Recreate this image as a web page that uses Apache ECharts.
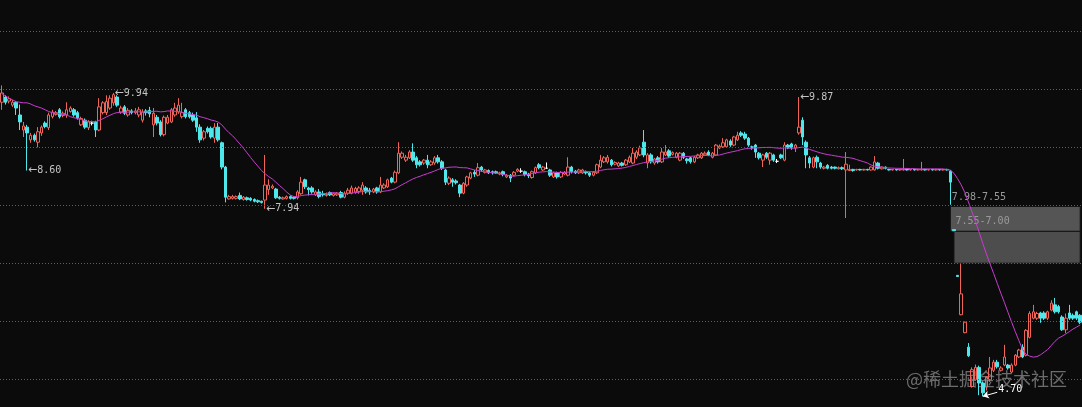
<!DOCTYPE html>
<html><head><meta charset="utf-8">
<script src="https://cdn.jsdelivr.net/npm/echarts@6/dist/echarts.min.js"></script>
<style>html,body{margin:0;padding:0;background:#0b0b0b}#c{width:1082px;height:407px}</style>
</head><body><div id="c"></div>
<script>
// [open, close, low, high]
const candles = [
[9.78,9.94,9.65,10.07],[9.87,9.78,9.74,9.90],[9.80,9.84,9.76,9.88],[9.73,9.78,9.70,9.82],[9.78,9.68,9.56,9.80],
[9.56,9.44,9.30,9.74],[9.30,9.37,9.18,9.44],[9.35,9.25,8.60,9.39],[9.13,9.21,9.08,9.25],[9.21,9.13,9.10,9.24],
[9.09,9.27,9.00,9.35],[9.25,9.35,9.20,9.38],[9.42,9.36,9.33,9.45],[9.34,9.56,9.30,9.60],[9.53,9.61,9.50,9.65],
[9.57,9.60,9.55,9.63],[9.65,9.53,9.50,9.68],[9.55,9.59,9.52,9.62],[9.56,9.65,9.51,9.78],[9.62,9.68,9.60,9.71],
[9.65,9.56,9.53,9.68],[9.60,9.51,9.48,9.63],[9.39,9.50,9.37,9.53],[9.47,9.35,9.32,9.50],[9.34,9.44,9.30,9.47],
[9.42,9.42,9.38,9.46],[9.44,9.30,9.18,9.46],[9.30,9.70,9.28,9.85],[9.60,9.77,9.57,9.80],[9.60,9.79,9.56,9.90],
[9.68,9.85,9.65,9.90],[9.77,9.91,9.72,9.94],[9.87,9.73,9.70,9.90],[9.61,9.68,9.58,9.72],[9.70,9.59,9.56,9.73],
[9.56,9.64,9.53,9.68],[9.63,9.60,9.57,9.66],[9.60,9.63,9.57,9.68],[9.56,9.65,9.52,9.70],[9.47,9.61,9.43,9.66],
[9.63,9.60,9.55,9.66],[9.64,9.58,9.52,9.70],[9.39,9.59,9.18,9.68],[9.52,9.42,9.38,9.56],[9.44,9.22,9.19,9.47],
[9.22,9.52,9.19,9.55],[9.42,9.52,9.40,9.56],[9.44,9.65,9.42,9.68],[9.56,9.68,9.53,9.77],[9.61,9.73,9.58,9.85],
[9.53,9.60,9.50,9.77],[9.65,9.53,9.50,9.68],[9.60,9.53,9.50,9.63],[9.56,9.47,9.44,9.60],[9.51,9.35,9.27,9.61],
[9.35,9.13,9.08,9.40],[9.16,9.27,9.12,9.30],[9.33,9.27,9.24,9.36],[9.33,9.18,9.15,9.36],[9.16,9.35,9.08,9.42],
[9.35,9.13,9.10,9.42],[9.08,8.66,8.62,9.10],[8.66,8.14,8.05,8.68],[8.11,8.15,8.10,8.18],[8.12,8.15,8.10,8.18],
[8.12,8.15,8.10,8.17],[8.17,8.11,8.09,8.22],[8.10,8.14,8.08,8.16],[8.13,8.10,8.08,8.15],[8.12,8.09,8.07,8.14],
[8.10,8.07,8.05,8.12],[8.08,8.06,8.04,8.10],[8.07,8.05,8.03,8.08],[8.09,8.35,7.94,8.87],[8.27,8.35,8.18,8.45],
[8.30,8.33,8.28,8.36],[8.28,8.13,8.11,8.30],[8.14,8.12,8.10,8.16],[8.11,8.13,8.10,8.15],[8.12,8.15,8.10,8.17],
[8.15,8.12,8.10,8.17],[8.14,8.12,8.10,8.16],[8.13,8.23,8.10,8.26],[8.20,8.40,8.18,8.49],[8.44,8.32,8.28,8.46],
[8.30,8.27,8.17,8.32],[8.30,8.23,8.20,8.33],[8.18,8.23,8.16,8.26],[8.23,8.15,8.12,8.28],[8.20,8.18,8.15,8.25],
[8.17,8.19,8.15,8.22],[8.22,8.18,8.16,8.24],[8.17,8.20,8.15,8.22],[8.18,8.21,8.16,8.23],[8.22,8.14,8.12,8.25],
[8.14,8.21,8.12,8.24],[8.21,8.26,8.18,8.30],[8.21,8.30,8.19,8.34],[8.23,8.29,8.20,8.32],[8.24,8.30,8.20,8.33],
[8.26,8.35,8.18,8.40],[8.30,8.23,8.20,8.33],[8.26,8.23,8.18,8.30],[8.23,8.28,8.21,8.30],[8.30,8.23,8.20,8.32],
[8.23,8.35,8.21,8.49],[8.30,8.35,8.28,8.38],[8.32,8.44,8.30,8.46],[8.47,8.40,8.38,8.49],[8.40,8.57,8.38,8.60],
[8.56,8.90,8.54,9.09],[8.83,8.90,8.80,8.93],[8.78,8.83,8.75,8.87],[8.82,8.92,8.80,8.95],[8.92,8.78,8.75,9.07],
[8.82,8.70,8.64,8.85],[8.75,8.70,8.67,8.78],[8.73,8.78,8.70,8.80],[8.78,8.70,8.64,8.87],[8.70,8.75,8.68,8.78],
[8.73,8.82,8.70,8.85],[8.82,8.75,8.72,8.87],[8.75,8.64,8.61,8.78],[8.61,8.40,8.35,8.63],[8.38,8.47,8.35,8.50],
[8.44,8.40,8.32,8.47],[8.42,8.39,8.36,8.45],[8.35,8.21,8.14,8.37],[8.21,8.38,8.19,8.40],[8.35,8.49,8.32,8.51],
[8.47,8.56,8.45,8.58],[8.57,8.54,8.49,8.61],[8.52,8.65,8.50,8.73],[8.66,8.61,8.58,8.68],[8.57,8.61,8.55,8.63],
[8.60,8.56,8.54,8.62],[8.58,8.56,8.53,8.60],[8.58,8.56,8.54,8.60],[8.54,8.56,8.52,8.58],[8.58,8.53,8.50,8.60],
[8.49,8.52,8.47,8.54],[8.52,8.47,8.40,8.54],[8.52,8.57,8.50,8.59],[8.59,8.62,8.57,8.64],[8.59,8.59,8.56,8.64],
[8.58,8.53,8.50,8.60],[8.54,8.51,8.47,8.56],[8.48,8.58,8.46,8.60],[8.56,8.65,8.54,8.67],[8.70,8.65,8.62,8.73],
[8.61,8.66,8.59,8.68],[8.64,8.64,8.63,8.74],[8.61,8.52,8.49,8.63],[8.49,8.56,8.47,8.58],[8.56,8.49,8.46,8.58],
[8.49,8.57,8.47,8.59],[8.54,8.57,8.52,8.59],[8.52,8.66,8.50,8.83],[8.66,8.58,8.55,8.68],[8.59,8.56,8.54,8.61],
[8.56,8.61,8.54,8.63],[8.56,8.61,8.54,8.63],[8.58,8.56,8.53,8.60],[8.56,8.52,8.49,8.58],[8.52,8.57,8.50,8.59],
[8.56,8.70,8.54,8.72],[8.66,8.78,8.64,8.87],[8.75,8.82,8.73,8.85],[8.75,8.83,8.72,8.87],[8.78,8.70,8.67,8.80],
[8.71,8.74,8.69,8.76],[8.68,8.73,8.66,8.75],[8.73,8.69,8.67,8.75],[8.70,8.78,8.68,8.80],[8.75,8.83,8.73,8.86],
[8.73,8.90,8.71,8.99],[8.83,8.92,8.80,8.95],[8.87,8.99,8.85,9.03],[9.09,8.87,8.83,9.30],[8.73,8.87,8.64,8.90],
[8.87,8.75,8.72,8.90],[8.73,8.80,8.70,8.82],[8.82,8.75,8.72,8.85],[8.75,8.92,8.73,8.99],[8.87,8.92,8.85,9.04],
[8.94,8.85,8.82,8.97],[8.88,8.91,8.86,8.93],[8.83,8.90,8.81,8.92],[8.78,8.90,8.76,8.92],[8.90,8.83,8.80,8.92],
[8.80,8.77,8.72,8.82],[8.82,8.75,8.72,8.84],[8.75,8.83,8.73,8.85],[8.82,8.87,8.80,8.89],[8.82,8.90,8.80,8.92],
[8.87,8.90,8.85,8.93],[8.92,8.87,8.85,8.95],[8.83,8.90,8.81,8.92],[8.87,9.04,8.85,9.06],[8.99,9.02,8.97,9.05],
[9.01,9.08,8.99,9.16],[9.01,9.13,8.99,9.15],[9.11,9.04,9.01,9.14],[9.04,9.18,9.02,9.20],[9.13,9.21,9.11,9.27],
[9.25,9.21,9.18,9.28],[9.23,9.16,9.13,9.27],[9.16,9.04,9.01,9.18],[9.01,8.99,8.96,9.03],[9.04,8.92,8.82,9.06],
[8.90,8.82,8.79,8.92],[8.78,8.87,8.66,8.89],[8.90,8.83,8.80,8.92],[8.78,8.90,8.70,8.92],[8.87,8.78,8.75,8.89],
[8.76,8.76,8.73,8.80],[8.87,8.82,8.80,8.89],[8.78,9.04,8.76,9.09],[9.04,8.99,8.97,9.06],[9.06,8.99,8.96,9.08],
[8.99,9.04,8.92,9.06],[9.25,9.35,9.22,9.87],[9.47,9.18,9.04,9.52],[9.09,8.87,8.64,9.12],[8.82,8.73,8.64,8.85],
[8.66,8.82,8.64,8.84],[8.83,8.75,8.64,8.86],[8.73,8.66,8.63,8.75],[8.64,8.66,8.62,8.68],[8.69,8.64,8.62,8.71],
[8.66,8.64,8.62,8.68],[8.66,8.64,8.62,8.67],[8.63,8.65,8.62,8.67],[8.65,8.63,8.61,8.67],[8.61,8.71,7.78,8.92],
[8.60,8.62,8.59,8.70],[8.62,8.60,8.58,8.63],[8.61,8.62,8.60,8.63],[8.62,8.61,8.60,8.63],[8.61,8.62,8.60,8.63],
[8.62,8.61,8.60,8.63],[8.61,8.66,8.60,8.67],[8.61,8.75,8.60,8.85],[8.73,8.64,8.62,8.75],[8.63,8.66,8.62,8.67],
[8.66,8.64,8.62,8.67],[8.62,8.61,8.60,8.63],[8.61,8.62,8.60,8.63],[8.62,8.61,8.60,8.62],[8.61,8.62,8.60,8.63],
[8.61,8.62,8.60,8.80],[8.62,8.61,8.60,8.63],[8.61,8.62,8.60,8.62],[8.62,8.61,8.60,8.63],[8.61,8.62,8.60,8.63],
[8.61,8.62,8.60,8.75],[8.62,8.61,8.60,8.63],[8.61,8.62,8.60,8.62],[8.62,8.61,8.60,8.63],[8.61,8.62,8.60,8.63],
[8.62,8.61,8.60,8.62],[8.61,8.62,8.60,8.63],[8.62,8.61,8.60,8.63],[8.59,8.40,8.01,8.61],[7.58,7.56,7.56,7.58],
[6.79,6.77,6.77,6.79],[6.11,6.47,6.10,7.00],[5.80,5.98,5.79,5.99],[5.55,5.40,5.38,5.62],[4.87,5.16,4.85,5.20],
[4.99,5.20,4.97,5.25],[5.20,4.93,4.72,5.23],[4.93,4.76,4.70,4.96],[4.86,5.03,4.80,5.05],[4.99,5.19,4.95,5.38],
[5.15,5.29,5.12,5.33],[5.29,5.21,5.18,5.33],[5.15,5.19,5.13,5.22],[5.24,5.38,5.22,5.59],[5.24,5.19,5.16,5.26],
[5.12,5.24,5.10,5.27],[5.24,5.41,5.22,5.43],[5.38,5.50,5.36,5.52],[5.55,5.38,5.36,5.60],[5.41,5.84,5.39,5.86],
[5.72,6.13,5.70,6.17],[6.05,6.16,6.03,6.28],[6.05,6.13,6.02,6.16],[6.14,6.05,5.97,6.16],[6.14,6.05,6.02,6.17],
[6.05,6.16,6.02,6.18],[6.19,6.31,6.17,6.36],[6.28,6.16,6.13,6.40],[6.25,6.16,6.13,6.28],[6.07,5.85,5.83,6.10],
[5.85,6.05,5.79,6.13],[6.14,6.05,6.02,6.28],[6.10,6.05,6.02,6.13],[6.16,6.05,6.02,6.18],[6.10,5.98,5.95,6.12]
];
// MA20 values for the first 19 days (earlier history not shown)
const ma20Head = [9.93,9.89,9.85,9.82,9.79,9.78,9.77,9.77,9.75,9.72,9.70,9.68,9.65,9.62,9.60,9.59,9.58,9.57,9.56];
const gridPrices = [5,6,7,8,9,10,11];
const extremeMarks = [
  {i:7, v:8.60}, {i:31, v:9.94}, {i:73, v:7.94}, {i:221, v:9.87}
];
const lowMark = {i:272, v:4.70, toI:276, toV:4.77, text:'4.70'};
const bands = [
  {from:263, top:7.98, bottom:7.55, text:'7.98-7.55', color:'#555555'},
  {from:264, top:7.55, bottom:7.00, text:'7.55-7.00', color:'#4d4d4d'}
];
const days = candles.map((_, i) => 'D' + (i + 1));

const UP = '#f0645a', DOWN = '#4ee8ec', BG = '#0b0b0b';
const closes = candles.map(c => c[1]);
const ma20 = closes.map((c, i) => i < 19 ? ma20Head[i] :
  +(closes.slice(i - 19, i + 1).reduce((a, b) => a + b, 0) / 20).toFixed(3));

const kData = candles.map(c => c[0] === c[1]
  ? {value: c, itemStyle: {color: '#ffffff', color0: '#ffffff', borderColor: '#ffffff', borderColor0: '#ffffff'}}
  : {value: c});

const lastI = candles.length - 1;
const chart = echarts.init(document.getElementById('c'), null, {renderer: 'canvas'});
chart.setOption({
  animation: false,
  backgroundColor: BG,
  grid: {left: 0, right: 0, top: 0, bottom: 0},
  xAxis: {type: 'category', data: days, show: false, boundaryGap: true},
  yAxis: {type: 'value', min: 4.516, max: 11.546, show: false},
  series: [
    {
      type: 'line', data: [], z: 1, silent: true,
      markLine: {
        silent: true, symbol: 'none', label: {show: false},
        lineStyle: {color: '#5e5e5e', width: 1, type: [1, 2]},
        data: gridPrices.map(v => ({yAxis: v}))
      },
      markArea: {
        silent: true,
        data: bands.map(b => [
          {coord: [b.from, b.top], itemStyle: {color: b.color, borderColor: '#141414', borderWidth: 1},
           label: {show: true, formatter: b.text, position: [2, -14], color: '#9a9a9a',
                   fontFamily: 'DejaVu Sans Mono', fontSize: 10}},
          {coord: [lastI, b.bottom]}
        ])
      }
    },
    {
      type: 'candlestick', z: 2, data: kData, barWidth: 3,
      itemStyle: {color: 'transparent', color0: DOWN, borderColor: UP, borderColor0: DOWN, borderWidth: 1},
      markPoint: {
        silent: true, symbol: 'rect', symbolSize: 0, animation: false,
        data: extremeMarks.map(m => ({
          coord: [m.i, m.v],
          label: {show: true, position: 'right', distance: 1,
            formatter: '{a|←}{n|' + m.v.toFixed(2) + '}',
            rich: {a: {fontFamily: 'DejaVu Sans', fontSize: 11, color: '#c4c4c4'},
                   n: {fontFamily: 'DejaVu Sans Mono', fontSize: 10, color: '#c4c4c4'}}}
        })).concat([{
          coord: [lowMark.toI, lowMark.toV],
          label: {show: true, position: 'right', distance: 1, offset: [0, -3], formatter: lowMark.text,
                  fontFamily: 'DejaVu Sans Mono', fontSize: 10, color: '#ffffff'}
        }])
      },
      markLine: {
        silent: true, symbolSize: 6, label: {show: false},
        lineStyle: {color: '#ffffff', width: 1, type: 'solid'},
        data: [[{coord: [lowMark.i, lowMark.v], symbol: 'arrow'}, {coord: [lowMark.toI, lowMark.toV], symbol: 'none'}]]
      }
    },
    {
      type: 'line', z: 3, data: ma20, showSymbol: false, symbol: 'none', silent: true,
      lineStyle: {color: '#c83cd0', width: 1}
    }
  ],
  graphic: [{
    type: 'text', left: 906, top: 370, silent: true,
    style: {text: '@稀土掘金技术社区', fontFamily: 'Noto Sans CJK SC', fontSize: 18,
            fill: 'rgba(150,150,150,0.7)'}
  }]
});
</script>
</body></html>
